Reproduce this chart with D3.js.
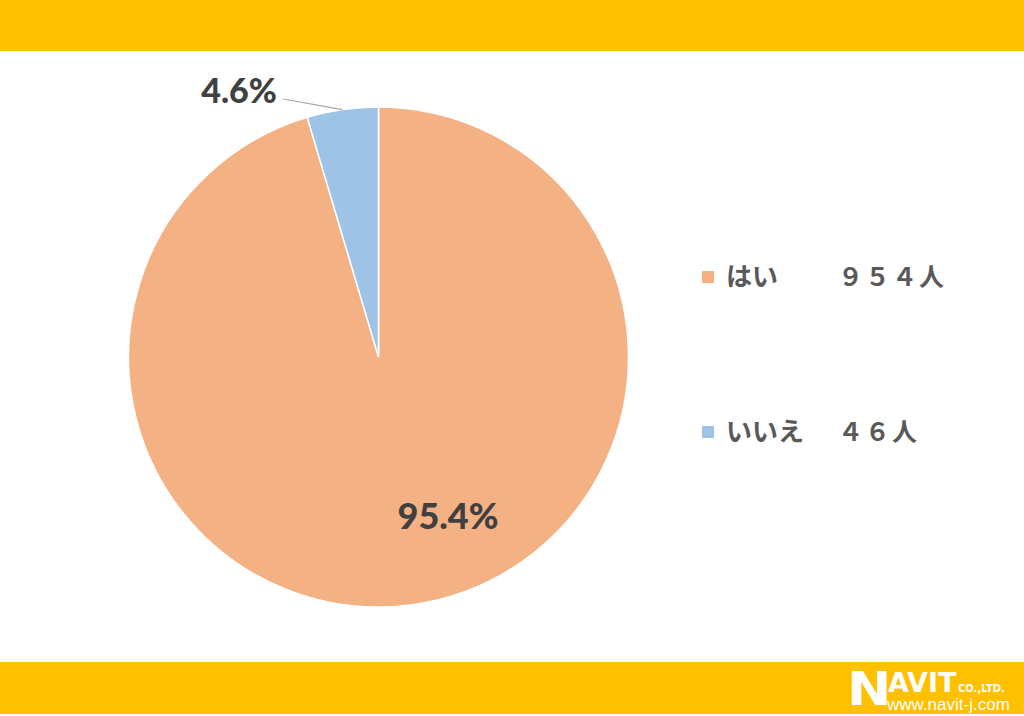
<!DOCTYPE html>
<html><head><meta charset="utf-8">
<script src="https://cdn.jsdelivr.net/npm/d3@7"></script>
<style>html,body{margin:0;padding:0;background:#fff;}svg{display:block;}</style>
</head><body>
<script>
const categories = ["はい", "いいえ"];
const counts = [954, 46];
const countLabels = ["９５４人", "４６人"];
const percentLabels = ["95.4%", "4.6%"];
const colors = ["#F4B183", "#9DC3E6"];

const W = 1024, H = 716;
const svg = d3.select("body").append("svg").attr("width", W).attr("height", H);
svg.append("rect").attr("width", W).attr("height", H).attr("fill", "#fff");
// top and bottom bars
svg.append("rect").attr("x", 0).attr("y", 0).attr("width", W).attr("height", 51).attr("fill", "#FFC000");
svg.append("rect").attr("x", 0).attr("y", 662).attr("width", W).attr("height", 52).attr("fill", "#FFC000");

const cx = 378.5, cy = 357, r = 250;
const pie = d3.pie().sort(null).value(d => d)(counts);
const arc = d3.arc().innerRadius(0).outerRadius(r);
const g = svg.append("g").attr("transform", `translate(${cx},${cy})`);
g.selectAll("path").data(pie).join("path")
  .attr("d", arc).attr("fill", (d, i) => colors[i])
  .attr("stroke", "#fff").attr("stroke-width", 1.5);

// label for big slice
const lblFont = "Lato, 'Open Sans', sans-serif";
g.append("text").attr("x", 448 - cx).attr("y", 529 - cy)
  .attr("text-anchor", "middle").attr("font-family", lblFont).attr("font-weight", 900)
  .attr("font-size", 36).attr("fill", "#404040").text(percentLabels[0]);

// label for small slice with leader line
const mid = (pie[1].startAngle + pie[1].endAngle) / 2;
const px = r * Math.sin(mid), py = -r * Math.cos(mid);
g.append("line").attr("x1", px).attr("y1", py).attr("x2", 283 - cx).attr("y2", 99 - cy)
  .attr("stroke", "#A6A6A6").attr("stroke-width", 1.2);
g.append("text").attr("x", 239 - cx).attr("y", 103 - cy)
  .attr("text-anchor", "middle").attr("font-family", lblFont).attr("font-weight", 900)
  .attr("font-size", 34).attr("fill", "#404040").text(percentLabels[1]);

// legend
const legY = [277, 432];
const lg = svg.append("g");
categories.forEach((c, i) => {
  lg.append("rect").attr("x", 702).attr("y", legY[i] - 6).attr("width", 12).attr("height", 12).attr("fill", colors[i]);
  lg.append("text").attr("x", 726).attr("y", legY[i] + 9)
    .attr("font-family", "'Noto Sans CJK JP', sans-serif").attr("font-weight", 700)
    .attr("font-size", 26).attr("fill", "#595959").text(c);
  lg.append("text").attr("x", 838).attr("y", legY[i] + 9)
    .attr("font-family", "'Noto Sans CJK JP', sans-serif").attr("font-weight", 700)
    .attr("font-size", 25).attr("letter-spacing", 2).attr("fill", "#595959").text(countLabels[i]);
});

// logo
const logo = svg.append("g").attr("fill", "#fff").attr("font-family", "'DejaVu Sans', 'Liberation Sans', Arial, sans-serif").attr("font-weight", 700);
logo.append("text").attr("transform", "translate(847,705) scale(1.15,1)").attr("font-size", 46).text("N");
logo.append("text").attr("x", 888).attr("y", 692).attr("font-size", 27).attr("letter-spacing", 0).text("AVIT");
logo.append("text").attr("x", 958).attr("y", 692).attr("font-size", 10).text("CO.,LTD.");
logo.append("text").attr("x", 887).attr("y", 710).attr("font-family", "'Liberation Sans', Arial, sans-serif").attr("font-size", 17).attr("font-weight", 400).text("www.navit-j.com");
</script>
</body></html>
